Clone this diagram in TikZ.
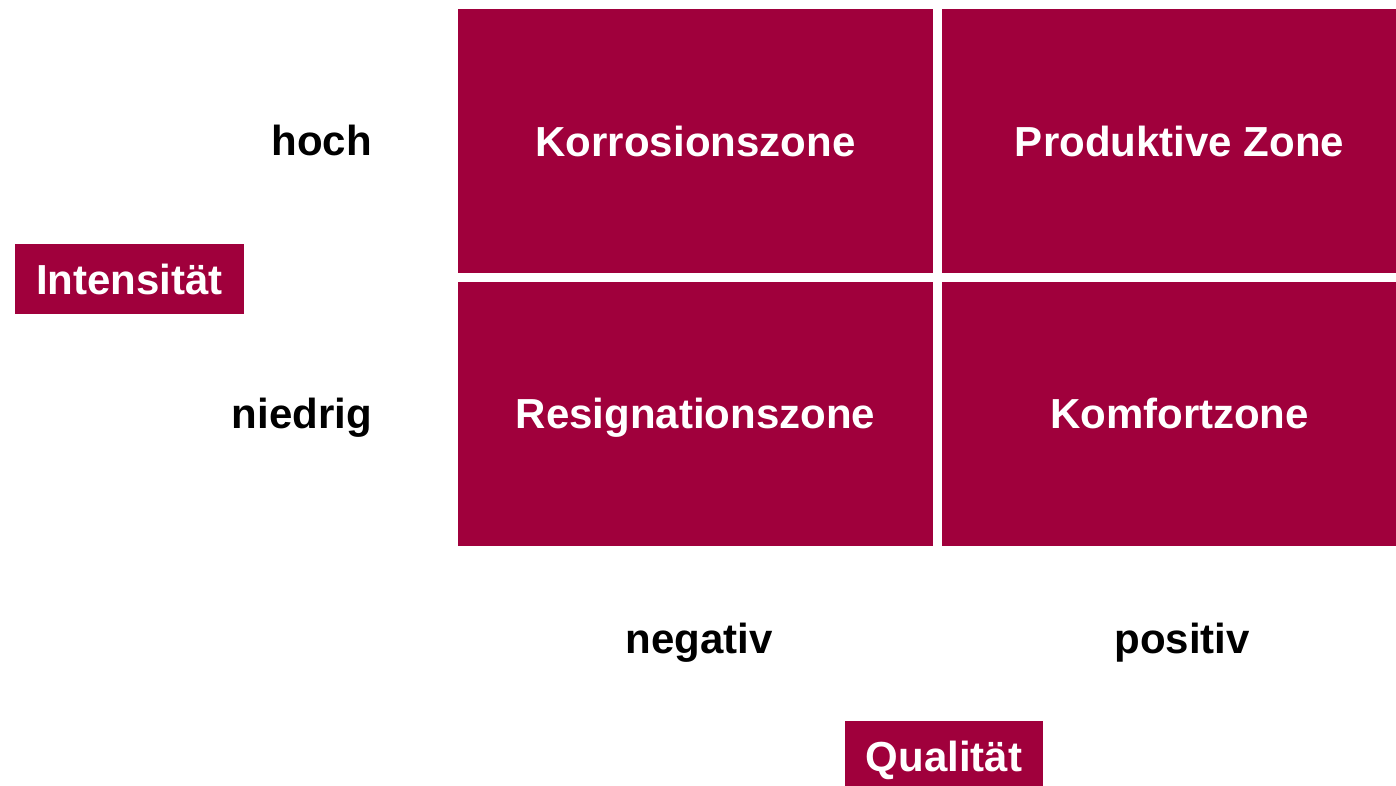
\documentclass[tikz,border=0pt]{standalone}
\usepackage{fontspec}
\setmainfont{Liberation Sans}
\definecolor{zonered}{RGB}{160,0,60}
\begin{document}
\begin{tikzpicture}[x=1pt,y=-1pt,
  lbl/.style={font=\fontsize{42}{50}\selectfont\bfseries, inner sep=0pt},
  zone/.style={lbl, fill=zonered, text=white, text height=30pt, text depth=0pt,
    minimum width=475pt, minimum height=264pt},
  axis/.style={lbl, fill=zonered, text=white, text height=30pt, text depth=0pt,
    minimum height=70pt}
]
\useasboundingbox (0,0) rectangle (1396,785);
\clip (0,0) rectangle (1396,785);
\node[zone] (korr) at (695.5,141) {Korrosionszone};
\node[zone] (prod) at (1179.5,141) {Produktive Zone};
\node[zone] (resi) at (695.5,413.5) {Resignationszone};
\node[zone] (komf) at (1179.5,413.5) {Komfortzone};
\node[axis, minimum width=229pt] (int) at (129.5,279) {Intensität};
\node[axis, minimum width=198pt] (qual) at (944,756) {Qualität};
\node[lbl, anchor=base east] (hoch) at (372,155) {hoch};
\node[lbl, anchor=base east] (nied) at (372,428) {niedrig};
\node[lbl, anchor=base] (neg) at (699,653) {negativ};
\node[lbl, anchor=base] (pos) at (1182,653) {positiv};
\end{tikzpicture}
\end{document}
